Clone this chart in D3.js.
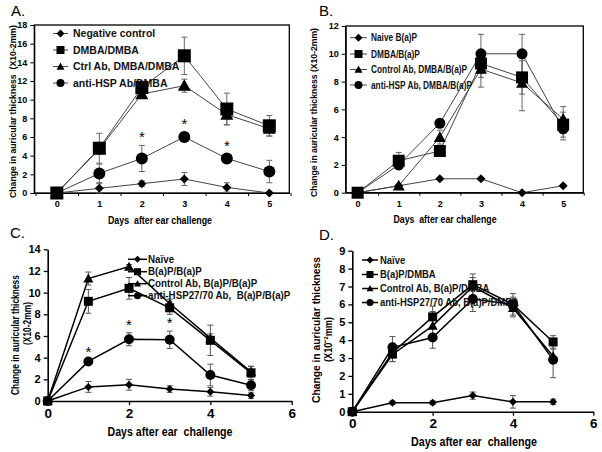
<head>
    <meta charset="utf-8">
    <title>auricular thickness</title>
    <script src="https://d3js.org/d3.v7.min.js"></script>
    <style>
        body { margin: 0; background: #fff; }
        text { font-family: "Liberation Sans", Arial, sans-serif; }
    </style>
</head>

<body>
    <svg width="602" height="452"></svg>
    <script>
        // days after ear challenge (same for every panel)
        var days = [0, 1, 2, 3, 4, 5];

        // panel A
        var aNames = ["Negative control", "DMBA/DMBA", "Ctrl Ab, DMBA/DMBA", "anti-HSP Ab/DMBA"];
        var aNeg = [0, 0.5, 1.0, 1.5, 0.6, 0];
        var aNegErr = [0, 0.5, 0.3, 0.7, 0.5, 0.1];
        var aDmba = [0, 4.8, 11.3, 14.7, 9.0, 7.2];
        var aDmbaErr = [0, 1.6, 0.4, 2.0, 1.7, 1.1];
        var aCtrl = [0, 4.7, 10.6, 11.5, 8.4, 6.9];
        var aCtrlErr = [0, 0.5, 0.4, 0.7, 1.1, 0.8];
        var aHsp = [0, 2.1, 3.7, 6.0, 3.7, 2.3];
        var aHspErr = [0, 1.0, 1.4, 0.5, 0.5, 1.2];
        var aStars = [2, 3, 4];
        var aYTicks = [0, 2, 4, 6, 8, 10, 12, 14, 16, 18];

        // panel B
        var bNames = ["Naive B(a)P", "DMBA/B(a)P", "Control Ab, DMBA/B(a)P", "anti-HSP Ab, DMBA/B(a)P"];
        var bNaive = [0, 0.5, 1.0, 1.0, 0, 0.5];
        var bNaiveErr = [0, 0.1, 0.1, 0.1, 0.05, 0.1];
        var bDmba = [0, 2.3, 3.0, 9.3, 8.3, 4.9];
        var bDmbaErr = [0, 0.6, 0.4, 1.0, 1.2, 0.9];
        var bCtrl = [0, 0.5, 4.0, 8.9, 7.9, 5.3];
        var bCtrlErr = [0, 0.1, 0.5, 1.3, 2.0, 0.9];
        var bHsp = [0, 2.0, 5.0, 10.0, 10.0, 4.6];
        var bHspErr = [0, 0.2, 0.2, 1.4, 1.4, 0.8];
        var bYTicks = [0, 2, 4, 6, 8, 10, 12];

        // panel C
        var cNames = ["Naïve", "B(a)P/B(a)P", "Control Ab, B(a)P/B(a)P", "anti-HSP27/70 Ab,  B(a)P/B(a)P"];
        var cNaive = [0, 1.3, 1.5, 1.1, 0.85, 0.5];
        var cNaiveErr = [0, 0.5, 0.5, 0.3, 0.4, 0.25];
        var cBap = [0, 9.2, 10.4, 8.6, 5.6, 2.6];
        var cBapErr = [0, 1.1, 1.0, 0.6, 1.4, 0.6];
        var cCtrl = [0, 11.3, 12.4, 9.0, 5.8, 2.7];
        var cCtrlErr = [0, 0.6, 0.2, 0.4, 0.4, 0.5];
        var cHsp = [0, 3.65, 5.7, 5.65, 2.4, 1.45];
        var cHspErr = [0, 0.15, 0.6, 0.8, 1.0, 0.5];
        var cStars = [1, 2, 3];
        var cYTicks = [0, 2, 4, 6, 8, 10, 12, 14];

        // panel D
        var dNames = ["Naïve", "B(a)P/DMBA", "Control Ab, B(a)P/DMBA", "anti-HSP27/70 Ab, B(a)P/DMBA"];
        var dNaive = [0, 0.5, 0.5, 0.9, 0.55, 0.55];
        var dNaiveErr = [0, 0.1, 0.1, 0.2, 0.35, 0.15];
        var dBap = [0, 3.3, 5.3, 7.1, 6.0, 3.9];
        var dBapErr = [0, 0.5, 0.6, 0.6, 0.6, 0.35];
        var dCtrl = [0, 3.2, 4.8, 7.0, 5.8, 3.1];
        var dCtrlErr = [0, 0.4, 0.8, 0.5, 0.5, 0.4];
        var dHsp = [0, 3.6, 4.15, 6.3, 6.0, 2.9];
        var dHspErr = [0, 0.6, 0.6, 0.7, 0.4, 1.0];
        var dYTicks = [0, 1, 2, 3, 4, 5, 6, 7, 8, 9];

        var cdXTicks = [0, 2, 4, 6];

        var shapes = ["diamond", "square", "triangle", "circle"];

        var svg = d3.select("svg");

        function marker(type, r) {
            if (type == "square") return "M" + (-r) + "," + (-r) + "h" + 2 * r + "v" + 2 * r + "h" + (-2 * r) + "Z";
            if (type == "diamond") return "M0," + (-r) + "L" + r + ",0L0," + r + "L" + (-r) + ",0Z";
            if (type == "triangle") return "M0," + (-r) + "L" + r + "," + 0.8 * r + "L" + (-r) + "," + 0.8 * r + "Z";
            return "M" + r + ",0A" + r + "," + r + " 0 1,1 " + (-r) + ",0A" + r + "," + r + " 0 1,1 " + r + ",0Z";
        }

        function series(names, vals, errs) {
            return names.map(function (n, i) {
                return { name: n, shape: shapes[i], pts: days.map(function (d, j) { return { x: d, v: vals[i][j], e: errs[i][j] }; }) };
            });
        }

        // squeeze text sideways, the original figure is a bit condensed
        function squeeze(sel, k) {
            sel.each(function () {
                var w = this.getComputedTextLength();
                d3.select(this).attr("textLength", w * k).attr("lengthAdjust", "spacingAndGlyphs");
            });
        }

        function drawPanel(p) {
            var g = svg.append("g");
            var x = d3.scaleLinear().domain(p.xDomain).range(p.xRange);
            var y = d3.scaleLinear().domain([0, p.yTicks[p.yTicks.length - 1]]).range(p.yRange);

            // axes
            var yAxis = g.append("g").attr("transform", "translate(" + p.xRange[0] + ",0)")
                .call(d3.axisLeft(y).tickValues(p.yTicks).tickSize(4).tickSizeOuter(0).tickPadding(3));
            yAxis.selectAll("text").style("font-size", p.tickFont).style("font-weight", "bold").attr("fill", "#000");

            if (p.box) {
                // tick marks between categories, labels under categories
                g.append("g").attr("transform", "translate(0," + p.yRange[0] + ")")
                    .call(d3.axisBottom(x).tickValues(d3.range(-0.5, 6, 1)).tickSize(3).tickSizeOuter(0).tickFormat(""));
                var xl = g.append("g").attr("transform", "translate(0," + p.yRange[0] + ")")
                    .call(d3.axisBottom(x).tickValues(days).tickFormat(d3.format("d")).tickSize(0).tickPadding(8));
                xl.select(".domain").remove();
                xl.selectAll("text").style("font-size", p.tickFont).style("font-weight", "bold");
                g.append("rect")
                    .attr("x", p.xRange[0]).attr("y", p.yRange[1])
                    .attr("width", p.xRange[1] - p.xRange[0]).attr("height", p.yRange[0] - p.yRange[1])
                    .attr("fill", "none").attr("stroke", "#000").attr("stroke-width", 1.3);
            } else {
                var xa = g.append("g").attr("transform", "translate(0," + p.yRange[0] + ")")
                    .call(d3.axisBottom(x).tickValues(cdXTicks).tickFormat(d3.format("d")).tickSize(4).tickSizeOuter(0).tickPadding(3));
                xa.selectAll("text").style("font-size", p.xTickFont).style("font-weight", "bold");
                g.selectAll(".domain").attr("stroke-width", 1.6);
                g.selectAll(".tick line").attr("stroke-width", 1.3);
            }

            // lines
            var line = d3.line().x(function (d) { return x(d.x); }).y(function (d) { return y(d.v); });
            g.selectAll(".ln").data(p.data).enter().append("path")
                .attr("d", function (s) { return line(s.pts); })
                .attr("fill", "none").attr("stroke", p.lineColor).attr("stroke-width", p.lineWidth);

            // error bars
            p.data.forEach(function (s) {
                var eb = g.selectAll(null).data(s.pts.filter(function (d) { return d.e > 0; })).enter().append("g")
                    .attr("stroke", p.errColor).attr("stroke-width", 1);
                eb.append("line").attr("x1", function (d) { return x(d.x); }).attr("x2", function (d) { return x(d.x); })
                    .attr("y1", function (d) { return y(d.v - d.e); }).attr("y2", function (d) { return y(d.v + d.e); });
                [-1, 1].forEach(function (sg) {
                    eb.append("line").attr("x1", function (d) { return x(d.x) - 3; }).attr("x2", function (d) { return x(d.x) + 3; })
                        .attr("y1", function (d) { return y(d.v + sg * d.e); }).attr("y2", function (d) { return y(d.v + sg * d.e); });
                });
            });

            // markers
            p.data.forEach(function (s) {
                g.selectAll(null).data(s.pts).enter().append("path")
                    .attr("transform", function (d) { return "translate(" + x(d.x) + "," + y(d.v) + ")"; })
                    .attr("d", marker(s.shape, p.markR[s.shape]))
                    .attr("fill", "#000");
            });

            // significance stars above the anti-HSP series
            if (p.stars) {
                var hsp = p.data[3].pts;
                g.selectAll(null).data(p.stars).enter().append("text")
                    .attr("x", function (d) { return x(d); })
                    .attr("y", function (d) { return y(hsp[d].v + hsp[d].e) - p.starGap; })
                    .attr("text-anchor", "middle").style("font-size", "15px").text("*");
            }

            // legend
            var lg = g.selectAll(".lg").data(p.data).enter().append("g")
                .attr("transform", function (s, i) { return "translate(0," + p.legY[i] + ")"; });
            lg.append("line").attr("x1", p.legX[0]).attr("x2", p.legX[1])
                .attr("stroke", p.lineColor).attr("stroke-width", p.lineWidth);
            lg.append("path").attr("transform", "translate(" + (p.legX[0] + p.legX[1]) / 2 + ",0)")
                .attr("d", function (s) { return marker(s.shape, p.legR); }).attr("fill", "#000");
            lg.append("text").attr("x", p.legX[2]).attr("dy", "0.35em")
                .style("font-size", p.legFont).style("font-weight", "bold").style("white-space", "pre")
                .attr("fill", "#111").text(function (s) { return s.name; })
                .call(squeeze, p.legK);

            // axis titles
            g.append("text").attr("x", p.xLab[0]).attr("y", p.xLab[1]).attr("text-anchor", "middle")
                .style("font-size", p.labFont).style("font-weight", "bold").style("white-space", "pre")
                .attr("textLength", p.xLab[2]).attr("lengthAdjust", "spacingAndGlyphs").text(p.xTitle);
            p.yTitle.forEach(function (t, i) {
                g.append("text").attr("transform", "translate(" + p.yLab[i][0] + "," + p.yLab[i][1] + ") rotate(-90)")
                    .attr("text-anchor", "middle").style("font-size", p.yLabFont).style("font-weight", "bold")
                    .style("white-space", "pre").attr("textLength", p.yLab[i][2]).attr("lengthAdjust", "spacingAndGlyphs")
                    .text(t);
            });

            g.append("text").attr("x", p.title[0]).attr("y", p.title[1]).style("font-size", "15px").text(p.letter);
        }

        drawPanel({
            letter: "A.", title: [11, 15.5],
            xDomain: [-0.53, 5.47], xRange: [34.3, 289.3], yRange: [193, 25], yTicks: aYTicks, box: true,
            data: series(aNames, [aNeg, aDmba, aCtrl, aHsp], [aNegErr, aDmbaErr, aCtrlErr, aHspErr]),
            tickFont: "9px", lineColor: "#444", lineWidth: 1, errColor: "#666",
            markR: { diamond: 4.5, square: 6.5, triangle: 6.5, circle: 6 },
            stars: aStars, starGap: 3,
            legY: [33.5, 50, 66.5, 83], legX: [53, 68, 73], legR: 4, legFont: "10.5px", legK: 1,
            xTitle: "Days  after ear challenge", xLab: [160, 224, 104], labFont: "10px",
            yTitle: ["Change in auricular thickness  (X10-2mm)"], yLab: [[16, 111.5, 173]], yLabFont: "9.5px"
        });

        drawPanel({
            letter: "B.", title: [319, 16],
            xDomain: [-0.29, 5.49], xRange: [345.7, 583.3], yRange: [192.7, 26], yTicks: bYTicks, box: true,
            data: series(bNames, [bNaive, bDmba, bCtrl, bHsp], [bNaiveErr, bDmbaErr, bCtrlErr, bHspErr]),
            tickFont: "9px", lineColor: "#444", lineWidth: 1, errColor: "#666",
            markR: { diamond: 4.5, square: 6, triangle: 6, circle: 5.5 },
            legY: [37.7, 54, 69.5, 85], legX: [350, 367, 371], legR: 4, legFont: "10px", legK: 0.83,
            xTitle: "Days  after ear challenge", xLab: [445, 223, 103], labFont: "10px",
            yTitle: ["Change in auricular thickness (X10-2mm)"], yLab: [[317, 112.5, 169]], yLabFont: "9.5px"
        });

        drawPanel({
            letter: "C.", title: [10, 238],
            xDomain: [0, 6], xRange: [47.7, 291.7], yRange: [401, 249.3], yTicks: cYTicks, box: false,
            data: series(cNames, [cNaive, cBap, cCtrl, cHsp], [cNaiveErr, cBapErr, cCtrlErr, cHspErr]),
            tickFont: "11px", xTickFont: "13.5px", lineColor: "#000", lineWidth: 1.5, errColor: "#555",
            markR: { diamond: 4, square: 4.5, triangle: 5, circle: 5 },
            stars: cStars, starGap: 3,
            legY: [259.3, 271.7, 283.7, 295.7], legX: [128, 147, 148], legR: 3.5, legFont: "10.5px", legK: 0.93,
            xTitle: "Days after ear  challenge", xLab: [170, 436, 125], labFont: "12px",
            yTitle: ["Change in auricular thickness", "(X10-2mm)"], yLab: [[19, 335, 120], [31, 323.5, 43]], yLabFont: "11px"
        });

        drawPanel({
            letter: "D.", title: [319, 240],
            xDomain: [0, 6], xRange: [352.3, 593.3], yRange: [411.7, 250.7], yTicks: dYTicks, box: false,
            data: series(dNames, [dNaive, dBap, dCtrl, dHsp], [dNaiveErr, dBapErr, dCtrlErr, dHspErr]),
            tickFont: "11px", xTickFont: "13.5px", lineColor: "#000", lineWidth: 1.5, errColor: "#555",
            markR: { diamond: 4, square: 4.5, triangle: 5, circle: 5 },
            legY: [260, 274.5, 288.5, 302.5], legX: [362, 378, 380], legR: 3.5, legFont: "10.5px", legK: 0.9,
            xTitle: "Days after ear  challenge", xLab: [474, 446, 126], labFont: "12px",
            yTitle: ["Change in auricular thickness", "(X10\u207B\u00B2mm)"], yLab: [[320, 330, 146], [332, 339.5, 45]], yLabFont: "11.5px"
        });
    </script>

</body>
